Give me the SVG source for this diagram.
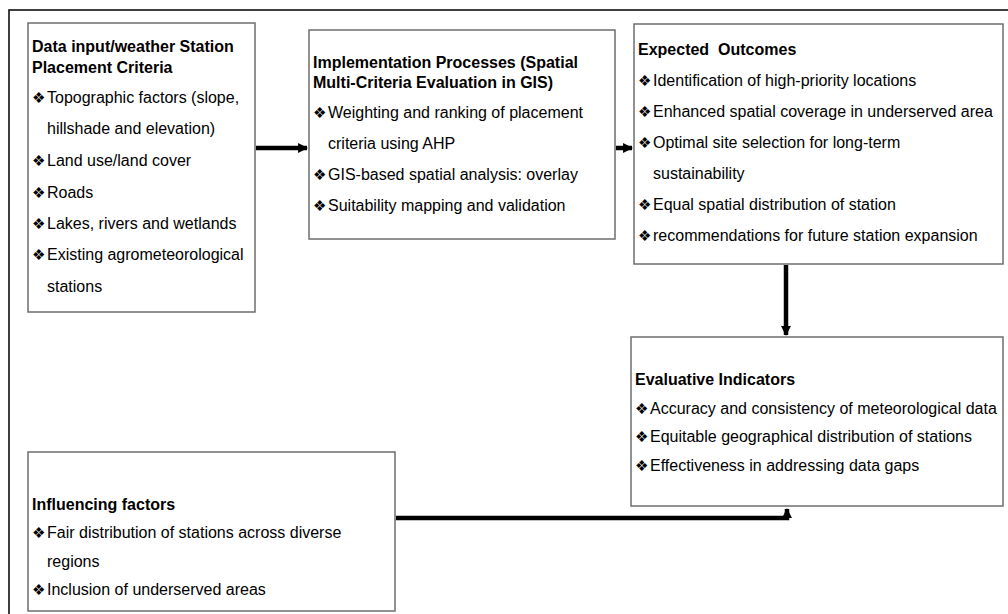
<svg xmlns="http://www.w3.org/2000/svg" width="1008" height="614" viewBox="0 0 1008 614">
<style>
.box{fill:#fff;stroke:#6e6e6e;stroke-width:1.5}
.t{font-family:"Liberation Sans",Arial,sans-serif;font-size:16px;fill:#000}
.b{font-weight:bold}
.bl{font-family:"DejaVu Sans",sans-serif;font-size:15px;fill:#000}
.c{fill:none;stroke:#000;stroke-width:4.5}
</style>
<defs>
<marker id="ah" viewBox="0 0 10 10" refX="9" refY="5" markerWidth="2.2" markerHeight="2.6" orient="auto" markerUnits="strokeWidth">
<path d="M0,0 L10,5 L0,10 z" fill="#000"/>
</marker>
</defs>
<rect x="9" y="10" width="1010" height="620" fill="#fff" stroke="#000" stroke-width="1.5"/>
<g id="connectors">
<line class="c" x1="256" y1="148" x2="307" y2="148" marker-end="url(#ah)"/>
<line class="c" x1="616" y1="148" x2="632" y2="148" marker-end="url(#ah)"/>
<line class="c" x1="786" y1="265" x2="786" y2="335" marker-end="url(#ah)"/>
<polyline class="c" points="396,518 787,518 787,509" marker-end="url(#ah)"/>
</g>
<g id="data-input">
<rect class="box" x="28" y="23" width="227" height="289"/>
<text class="t b" x="32" y="52">Data input/weather Station</text>
<text class="t b" x="32" y="73">Placement Criteria</text>
<text class="t" x="32" y="103"><tspan class="bl">❖︎</tspan><tspan x="47">Topographic factors (slope,</tspan></text>
<text class="t" x="47" y="134">hillshade and elevation)</text>
<text class="t" x="32" y="166"><tspan class="bl">❖︎</tspan><tspan x="47">Land use/land cover</tspan></text>
<text class="t" x="32" y="198"><tspan class="bl">❖︎</tspan><tspan x="47">Roads</tspan></text>
<text class="t" x="32" y="229"><tspan class="bl">❖︎</tspan><tspan x="47">Lakes, rivers and wetlands</tspan></text>
<text class="t" x="32" y="260"><tspan class="bl">❖︎</tspan><tspan x="47">Existing agrometeorological</tspan></text>
<text class="t" x="47" y="292">stations</text>
</g>
<g id="implementation">
<rect class="box" x="309" y="30" width="306" height="209"/>
<text class="t b" x="313" y="68">Implementation Processes (Spatial</text>
<text class="t b" x="313" y="88">Multi-Criteria Evaluation in GIS)</text>
<text class="t" x="313" y="118"><tspan class="bl">❖︎</tspan><tspan x="328">Weighting and ranking of placement</tspan></text>
<text class="t" x="328" y="149">criteria using AHP</text>
<text class="t" x="313" y="180"><tspan class="bl">❖︎</tspan><tspan x="328">GIS-based spatial analysis: overlay</tspan></text>
<text class="t" x="313" y="211"><tspan class="bl">❖︎</tspan><tspan x="328">Suitability mapping and validation</tspan></text>
</g>
<g id="outcomes">
<rect class="box" x="634" y="24" width="369" height="240"/>
<text class="t b" x="638" y="55" xml:space="preserve">Expected  Outcomes</text>
<text class="t" x="638" y="86"><tspan class="bl">❖︎</tspan><tspan x="653">Identification of high-priority locations</tspan></text>
<text class="t" x="638" y="117"><tspan class="bl">❖︎</tspan><tspan x="653">Enhanced spatial coverage in underserved area</tspan></text>
<text class="t" x="638" y="148"><tspan class="bl">❖︎</tspan><tspan x="653">Optimal site selection for long-term</tspan></text>
<text class="t" x="653" y="179">sustainability</text>
<text class="t" x="638" y="210"><tspan class="bl">❖︎</tspan><tspan x="653">Equal spatial distribution of station</tspan></text>
<text class="t" x="638" y="241"><tspan class="bl">❖︎</tspan><tspan x="653">recommendations for future station expansion</tspan></text>
</g>
<g id="indicators">
<rect class="box" x="631" y="337" width="372" height="169"/>
<text class="t b" x="635" y="385">Evaluative Indicators</text>
<text class="t" x="635" y="414"><tspan class="bl">❖︎</tspan><tspan x="650">Accuracy and consistency of meteorological data</tspan></text>
<text class="t" x="635" y="442"><tspan class="bl">❖︎</tspan><tspan x="650">Equitable geographical distribution of stations</tspan></text>
<text class="t" x="635" y="471"><tspan class="bl">❖︎</tspan><tspan x="650">Effectiveness in addressing data gaps</tspan></text>
</g>
<g id="influencing">
<rect class="box" x="28" y="452" width="367" height="159"/>
<text class="t b" x="32" y="510">Influencing factors</text>
<text class="t" x="32" y="538"><tspan class="bl">❖︎</tspan><tspan x="47">Fair distribution of stations across diverse</tspan></text>
<text class="t" x="47" y="567">regions</text>
<text class="t" x="32" y="595"><tspan class="bl">❖︎</tspan><tspan x="47">Inclusion of underserved areas</tspan></text>
</g>
</svg>
